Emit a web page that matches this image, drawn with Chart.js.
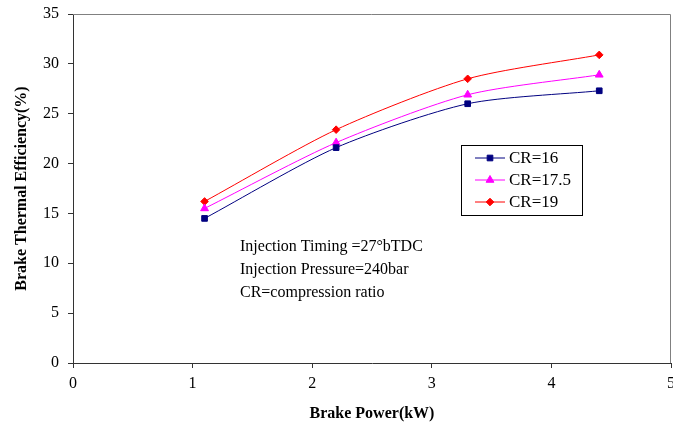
<!DOCTYPE html>
<html>
<head>
<meta charset="utf-8">
<script src="https://cdn.jsdelivr.net/npm/chart.js@4/dist/chart.umd.min.js"></script>
<style>
  html, body { margin: 0; padding: 0; background: #fff; }
  #wrap { width: 673px; height: 427px; position: relative; }
</style>
</head>
<body>
<div id="wrap"><canvas id="chart"></canvas></div>
<script>
const brakePower = [1.1, 2.2, 3.3, 4.4];
const cr16 = [14.5, 21.6, 26.0, 27.3];
const cr175 = [15.5, 22.1, 26.9, 28.9];
const cr19 = [16.2, 23.4, 28.5, 30.9];
const seriesNames = ['CR=16', 'CR=17.5', 'CR=19'];
const noteLines = ['Injection Timing =27°bTDC', 'Injection Pressure=240bar', 'CR=compression ratio'];

const serif = '"Liberation Serif", "Times New Roman", serif';

function pts(ys) {
  return brakePower.map((x, i) => ({ x: x, y: ys[i] }));
}

// frame round the plot, the in-plot legend box and the note text
const extras = {
  id: 'extras',
  afterDraw(chart) {
    const ctx = chart.ctx;
    const a = chart.chartArea;
    ctx.save();
    ctx.strokeStyle = '#808080';
    ctx.lineWidth = 1;
    ctx.beginPath();
    ctx.moveTo(a.left, a.top + 0.5);
    ctx.lineTo(a.right - 0.5, a.top + 0.5);
    ctx.lineTo(a.right - 0.5, a.bottom);
    ctx.stroke();

    // legend
    const lx = 461, ly = 145, lw = 121, lh = 70;
    ctx.strokeStyle = '#000';
    ctx.strokeRect(lx + 0.5, ly + 0.5, lw, lh);
    ctx.font = '17px ' + serif;
    ctx.textBaseline = 'middle';
    chart.data.datasets.forEach((ds, i) => {
      const y = ly + 13 + i * 22;
      ctx.strokeStyle = ds.borderColor;
      ctx.lineWidth = 1;
      ctx.beginPath();
      ctx.moveTo(lx + 14, y);
      ctx.lineTo(lx + 44, y);
      ctx.stroke();
      ctx.fillStyle = ds.backgroundColor;
      Chart.helpers.drawPoint(ctx, {
        pointStyle: ds.pointStyle, radius: ds.pointRadius, rotation: 0, borderWidth: 1
      }, lx + 29, y);
      ctx.fillStyle = '#000';
      ctx.fillText(ds.label, lx + 48, y + 1);
    });

    // note
    ctx.fillStyle = '#000';
    ctx.font = '16px ' + serif;
    noteLines.forEach((t, i) => ctx.fillText(t, 240, 247 + i * 23));
    ctx.restore();
  }
};

new Chart(document.getElementById('chart'), {
  type: 'line',
  data: {
    datasets: [
      { label: seriesNames[0], data: pts(cr16), borderColor: '#000080', backgroundColor: '#000080',
        pointStyle: 'rect', pointRadius: 4 },
      { label: seriesNames[1], data: pts(cr175), borderColor: '#FF00FF', backgroundColor: '#FF00FF',
        pointStyle: 'triangle', pointRadius: 4.5 },
      { label: seriesNames[2], data: pts(cr19), borderColor: '#FF0000', backgroundColor: '#FF0000',
        pointStyle: 'rectRot', pointRadius: 3.8 }
    ].map(d => Object.assign(d, { borderWidth: 1, tension: 0.25, fill: false, pointBorderWidth: 1 }))
  },
  options: {
    responsive: true,
    maintainAspectRatio: false,
    animation: false,
    layout: { autoPadding: false, padding: { left: 0, right: 2, top: 14, bottom: 0 } },
    plugins: { legend: { display: false }, tooltip: { enabled: false } },
    scales: {
      x: {
        type: 'linear', min: 0, max: 5,
        ticks: { stepSize: 1, color: '#000', font: { family: serif, size: 16 }, padding: 6, maxRotation: 0 },
        grid: { drawOnChartArea: false, tickLength: 5, color: '#333' },
        border: { color: '#333', width: 1 },
        title: { display: true, text: 'Brake Power(kW)', color: '#000',
                 font: { family: serif, size: 16, weight: 'bold' }, padding: { top: 8 } },
        afterFit(s) { s.height = 64; s.paddingLeft = 0; s.paddingRight = 0; }
      },
      y: {
        min: 0, max: 35,
        ticks: { stepSize: 5, color: '#000', font: { family: serif, size: 16 }, padding: 9 },
        grid: { drawOnChartArea: false, tickLength: 5, color: '#333' },
        border: { color: '#333', width: 1 },
        title: { display: true, text: 'Brake Thermal Efficiency(%)', color: '#000',
                 font: { family: serif, size: 16, weight: 'bold' }, padding: { top: 12, bottom: 0 } },
        afterFit(s) { s.width = 73; s.paddingTop = 0; s.paddingBottom = 0; }
      }
    }
  },
  plugins: [extras]
});
</script>
</body>
</html>
